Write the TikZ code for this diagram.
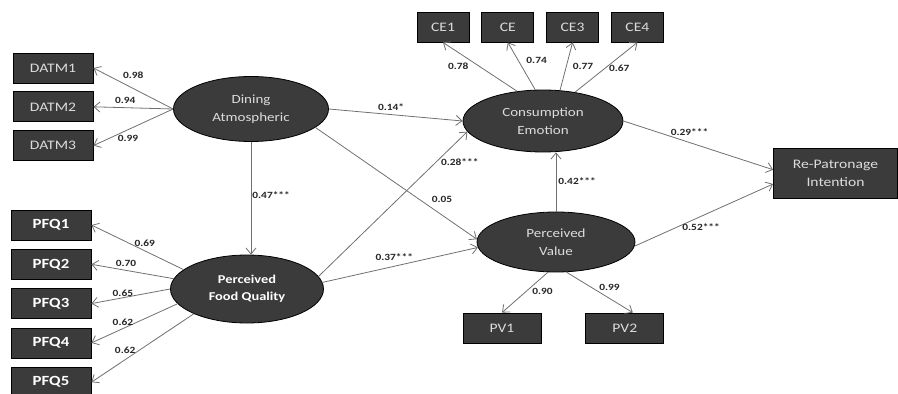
\documentclass[tikz,border=0pt]{standalone}
\usepackage{fontspec}
\setmainfont{Carlito}[FakeStretch=1.2]
\usepackage{xcolor}
\usetikzlibrary{arrows.meta, positioning, shapes.geometric}
\definecolor{boxfill}{HTML}{3B3B3B}
\definecolor{boxtext}{HTML}{DCDCDC}
\definecolor{linegray}{HTML}{707070}

\begin{document}
\begin{tikzpicture}[x=1pt, y=1pt,
  box/.style={draw=black, line width=0.8pt, fill=boxfill, text=boxtext, minimum width=80pt, minimum height=30pt, inner sep=2pt, font=\fontsize{13}{16}\selectfont},
  boldbox/.style={box, text=white, font=\fontsize{14}{16}\bfseries\selectfont},
  latent/.style={ellipse, draw=black, line width=0.8pt, fill=boxfill, text=boxtext, inner sep=0pt, align=center, font=\fontsize{12.5}{18}\selectfont},
  arr/.style={-{Straight Barb[length=6pt, width=10pt]}, draw=linegray, line width=0.8pt},
  coef/.style={font=\fontsize{9.5}{11}\bfseries\selectfont, text=black!85, inner sep=1pt}
]
  \useasboundingbox (0,0) rectangle (898,-394);

  \node[latent, minimum width=155pt, minimum height=65pt] (dining) at (251,-109) {Dining\\Atmospheric};
  \node[latent, minimum width=153pt, minimum height=68pt, text=white, font=\fontsize{12}{17}\bfseries\selectfont] (food) at (247,-289) {Perceived\\Food Quality};
  \node[latent, minimum width=160pt, minimum height=62pt] (emotion) at (543,-121) {Consumption\\Emotion};
  \node[latent, minimum width=158pt, minimum height=60pt] (value) at (556,-242) {Perceived\\Value};
  \node[box, minimum width=124pt, minimum height=50pt, align=center, font=\fontsize{13}{18}\selectfont] (intent) at (835.5,-173) {Re-Patronage\\Intention};

  \node[box] (datm1) at (53,-68) {DATM1};
  \node[box, below=8pt of datm1] (datm2) {DATM2};
  \node[box, below=8pt of datm2] (datm3) {DATM3};

  \node[boldbox] (pfq1) at (51,-225) {PFQ1};
  \node[boldbox, below=8.5pt of pfq1] (pfq2) {PFQ2};
  \node[boldbox, below=8.5pt of pfq2] (pfq3) {PFQ3};
  \node[boldbox, below=8.5pt of pfq3] (pfq4) {PFQ4};
  \node[boldbox, below=8.5pt of pfq4] (pfq5) {PFQ5};

  \node[box, minimum width=52pt] (ce1) at (443,-27) {CE1};
  \node[box, minimum width=52pt, right=12pt of ce1] (ce2) {CE};
  \node[box, minimum width=52pt, right=12pt of ce2] (ce3) {CE3};
  \node[box, minimum width=52pt, right=12pt of ce3] (ce4) {CE4};

  \node[box, minimum width=78pt] (pv1) at (502,-328) {PV1};
  \node[box, minimum width=78pt, right=44pt of pv1] (pv2) {PV2};

  \draw[arr] (dining.west) -- node[coef, pos=0.5, above=9pt]{0.98} (datm1.east);
  \draw[arr] (dining.west) -- node[coef, pos=0.6, above=3pt]{0.94} (datm2.east);
  \draw[arr] (dining.west) -- node[coef, pos=0.565, below=4pt]{0.99} (datm3.east);

  \draw[arr] (food.163) -- node[coef, pos=0.42, above=3pt]{0.69} (pfq1.east);
  \draw[arr] (food.172) -- node[coef, pos=0.58, above=2pt]{0.70} (pfq2.east);
  \draw[arr] (food.180) -- node[coef, pos=0.6, above=0pt]{0.65} (pfq3.east);
  \draw[arr] (food.192.5) -- node[coef, pos=0.634, above=2pt]{0.62} (pfq4.east);
  \draw[arr] (food.205) -- node[coef, pos=0.67, above=5pt]{0.62} (pfq5.east);

  \draw[arr] (emotion.131) -- node[coef, pos=0.516, left=9pt]{0.78} (ce1.south);
  \draw[arr] (emotion.104) -- node[coef, pos=0.626, right=7pt]{0.74} (ce2.south);
  \draw[arr] (emotion.61) -- node[coef, pos=0.507, right=5pt]{0.77} (ce3.south);
  \draw[arr] (emotion.42) -- node[coef, pos=0.475, right=3pt]{0.67} (ce4.south);

  \draw[arr] (dining.south) -- node[coef, pos=0.47, right=0pt]{0.47***} (dining.south |- food.north);
  \draw[arr] (dining.east) -- node[coef, pos=0.465, above=2.5pt]{0.14*} (emotion.west);
  \draw[arr] (dining.-16) -- node[coef, pos=0.784, above=11pt]{0.05} (value.178);
  \draw[arr] (food.10) -- node[coef, pos=0.787, right=4pt]{0.28***} (emotion.188);
  \draw[arr] (food.5) -- node[coef, pos=0.462, above=4pt]{0.37***} (value.184);
  \draw[arr] (value.north) -- node[coef, pos=0.51, right=1pt]{0.42***} (emotion.south -| value.north);

  \draw[arr] (value.255) -- node[coef, pos=0.478, right=5pt]{0.90} (pv1.north);
  \draw[arr] (value.289) -- node[coef, pos=0.37, right=7pt]{0.99} ([xshift=8pt]pv2.north);

  \draw[arr] (emotion.east) -- node[coef, pos=0.442, above=6pt]{0.29***} (intent.177);
  \draw[arr] (value.-3) -- node[coef, pos=0.48, below=6pt]{0.52***} (intent.190);
\end{tikzpicture}
\end{document}
